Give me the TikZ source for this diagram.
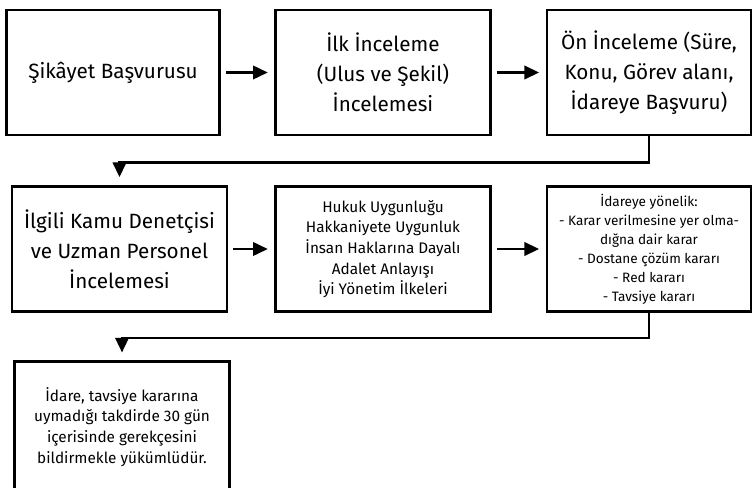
\documentclass[tikz,border=0pt]{standalone}
\usepackage{fontspec}
\setmainfont{Fira Sans}
\usetikzlibrary{arrows.meta}
\begin{document}
\begin{tikzpicture}[x=0.75pt,y=-0.75pt,>={Triangle[length=11pt,width=10pt]},line width=1.8pt,
    box/.style={draw,align=center,inner sep=2pt,minimum height=94pt},
    big/.style={font=\fontsize{15.5}{22.5}\selectfont},
    mid/.style={font=\fontsize{11.5}{15.5}\selectfont},
    small/.style={font=\fontsize{10.2}{14.2}\selectfont},
    arr/.style={->,shorten >=5pt,shorten <=4pt}]
    \useasboundingbox (0,0) rectangle (752,488);
    \node[box,big,minimum width=160pt] (sikayet) at (113,72.5) {Şikâyet Başvurusu};
    \node[box,big,minimum width=161pt] (ilk) at (383,72.5) {İlk İnceleme\\(Ulus ve Şekil)\\İncelemesi};
    \node[box,big,minimum width=153pt] (on) at (649,72.5) {Ön İnceleme (Süre,\\Konu, Görev alanı,\\İdareye Başvuru)};
    \node[box,big,minimum width=161pt] (denetci) at (119.5,249) {İlgili Kamu Denetçisi\\ve Uzman Personel\\İncelemesi};
    \node[box,mid,minimum width=161pt] (ilkeler) at (383,249) {Hukuk Uygunluğu\\Hakkaniyete Uygunluk\\İnsan Haklarına Dayalı\\Adalet Anlayışı\\İyi Yönetim İlkeleri};
    \node[box,small,minimum width=153pt] (karar) at (649,249) {İdareye yönelik:\\- Karar verilmesine yer olma-\\dığna dair karar\\- Dostane çözüm kararı\\- Red kararı\\- Tavsiye kararı};
    \node[box,mid,minimum width=161pt,minimum height=98pt] (idare) at (122,427) {İdare, tavsiye kararına\\uymadığı takdirde 30 gün\\içerisinde gerekçesini\\bildirmekle yükümlüdür.};
    \draw[arr] (sikayet) -- (ilk);
    \draw[arr] (ilk) -- (on);
    \draw[arr] (denetci) -- (ilkeler);
    \draw[arr] (ilkeler) -- (karar);
    \draw[->,shorten >=6pt] (on.south) -- ++(0,26) -| (denetci.north);
    \draw[->,shorten >=6pt] (karar.south) -- ++(0,25) -| (idare.north);
\end{tikzpicture}
\end{document}
